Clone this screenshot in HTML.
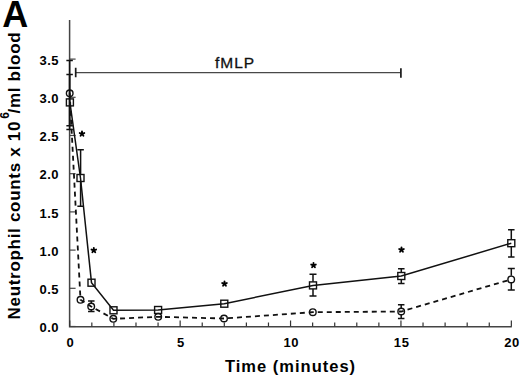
<!DOCTYPE html><html><head><meta charset="utf-8"><style>html,body{margin:0;padding:0;background:#fff;}svg{display:block;}text{font-family:"Liberation Sans",sans-serif;}</style></head><body>
<svg width="520" height="376" viewBox="0 0 520 376">
<rect width="520" height="376" fill="#fff"/>
<text x="2.2" y="27" font-size="36" font-weight="bold" fill="#000">A</text>
<text transform="translate(20.1,319.5) rotate(-90)" font-size="17" letter-spacing="0.7" font-weight="bold" fill="#000">Neutrophil counts x 10<tspan font-size="12" dy="-11" dx="2">6</tspan><tspan dy="11" dx="-2">/ml blood</tspan></text>
<path d="M69.6,20 V326.7 H511.8" fill="none" stroke="#444" stroke-width="1.5"/>
<line x1="69.6" x2="75.6" y1="326.50" y2="326.50" stroke="#444" stroke-width="1.2"/>
<text x="58.8" y="332.20" font-size="13" font-weight="bold" letter-spacing="0.4" text-anchor="end" fill="#000">0.0</text>
<line x1="69.6" x2="75.6" y1="288.30" y2="288.30" stroke="#444" stroke-width="1.2"/>
<text x="58.8" y="294.00" font-size="13" font-weight="bold" letter-spacing="0.4" text-anchor="end" fill="#000">0.5</text>
<line x1="69.6" x2="75.6" y1="250.10" y2="250.10" stroke="#444" stroke-width="1.2"/>
<text x="58.8" y="255.80" font-size="13" font-weight="bold" letter-spacing="0.4" text-anchor="end" fill="#000">1.0</text>
<line x1="69.6" x2="75.6" y1="211.90" y2="211.90" stroke="#444" stroke-width="1.2"/>
<text x="58.8" y="217.60" font-size="13" font-weight="bold" letter-spacing="0.4" text-anchor="end" fill="#000">1.5</text>
<line x1="69.6" x2="75.6" y1="173.70" y2="173.70" stroke="#444" stroke-width="1.2"/>
<text x="58.8" y="179.40" font-size="13" font-weight="bold" letter-spacing="0.4" text-anchor="end" fill="#000">2.0</text>
<line x1="69.6" x2="75.6" y1="135.50" y2="135.50" stroke="#444" stroke-width="1.2"/>
<text x="58.8" y="141.20" font-size="13" font-weight="bold" letter-spacing="0.4" text-anchor="end" fill="#000">2.5</text>
<line x1="69.6" x2="75.6" y1="97.30" y2="97.30" stroke="#444" stroke-width="1.2"/>
<text x="58.8" y="103.00" font-size="13" font-weight="bold" letter-spacing="0.4" text-anchor="end" fill="#000">3.0</text>
<line x1="69.6" x2="75.6" y1="59.10" y2="59.10" stroke="#444" stroke-width="1.2"/>
<text x="58.8" y="64.80" font-size="13" font-weight="bold" letter-spacing="0.4" text-anchor="end" fill="#000">3.5</text>
<line x1="69.75" x2="69.75" y1="326.5" y2="320.5" stroke="#333" stroke-width="1.2"/>
<line x1="91.83" x2="91.83" y1="326.5" y2="322.5" stroke="#333" stroke-width="1.2"/>
<line x1="113.91" x2="113.91" y1="326.5" y2="322.5" stroke="#333" stroke-width="1.2"/>
<line x1="135.99" x2="135.99" y1="326.5" y2="322.5" stroke="#333" stroke-width="1.2"/>
<line x1="158.07" x2="158.07" y1="326.5" y2="322.5" stroke="#333" stroke-width="1.2"/>
<line x1="180.15" x2="180.15" y1="326.5" y2="320.5" stroke="#333" stroke-width="1.2"/>
<line x1="202.23" x2="202.23" y1="326.5" y2="322.5" stroke="#333" stroke-width="1.2"/>
<line x1="224.31" x2="224.31" y1="326.5" y2="322.5" stroke="#333" stroke-width="1.2"/>
<line x1="246.39" x2="246.39" y1="326.5" y2="322.5" stroke="#333" stroke-width="1.2"/>
<line x1="268.47" x2="268.47" y1="326.5" y2="322.5" stroke="#333" stroke-width="1.2"/>
<line x1="290.55" x2="290.55" y1="326.5" y2="320.5" stroke="#333" stroke-width="1.2"/>
<line x1="312.63" x2="312.63" y1="326.5" y2="322.5" stroke="#333" stroke-width="1.2"/>
<line x1="334.71" x2="334.71" y1="326.5" y2="322.5" stroke="#333" stroke-width="1.2"/>
<line x1="356.79" x2="356.79" y1="326.5" y2="322.5" stroke="#333" stroke-width="1.2"/>
<line x1="378.87" x2="378.87" y1="326.5" y2="322.5" stroke="#333" stroke-width="1.2"/>
<line x1="400.95" x2="400.95" y1="326.5" y2="320.5" stroke="#333" stroke-width="1.2"/>
<line x1="423.03" x2="423.03" y1="326.5" y2="322.5" stroke="#333" stroke-width="1.2"/>
<line x1="445.11" x2="445.11" y1="326.5" y2="322.5" stroke="#333" stroke-width="1.2"/>
<line x1="467.19" x2="467.19" y1="326.5" y2="322.5" stroke="#333" stroke-width="1.2"/>
<line x1="489.27" x2="489.27" y1="326.5" y2="322.5" stroke="#333" stroke-width="1.2"/>
<line x1="511.35" x2="511.35" y1="326.5" y2="320.5" stroke="#333" stroke-width="1.2"/>
<text x="70.45" y="346.5" font-size="13" font-weight="bold" letter-spacing="0.6" text-anchor="middle" fill="#000">0</text>
<text x="180.85" y="346.5" font-size="13" font-weight="bold" letter-spacing="0.6" text-anchor="middle" fill="#000">5</text>
<text x="291.25" y="346.5" font-size="13" font-weight="bold" letter-spacing="0.6" text-anchor="middle" fill="#000">10</text>
<text x="401.65" y="346.5" font-size="13" font-weight="bold" letter-spacing="0.6" text-anchor="middle" fill="#000">15</text>
<text x="512.05" y="346.5" font-size="13" font-weight="bold" letter-spacing="0.6" text-anchor="middle" fill="#000">20</text>
<text x="225" y="371.5" font-size="16.5" font-weight="bold" letter-spacing="1" fill="#000">Time (minutes)</text>
<path d="M75.6,72.6 H400.8" fill="none" stroke="#484848" stroke-width="1.4"/>
<path d="M75.7,67.8 V77.2 M400.9,68.2 V77.8" fill="none" stroke="#1a1a1a" stroke-width="1.7"/>
<text x="215" y="68" font-size="15.5" letter-spacing="1" fill="#111" stroke="#111" stroke-width="0.3">fMLP</text>
<path d="M69.6,60.4 V129.6 M66.35,60.4 H72.85 M66.35,129.6 H72.85" fill="none" stroke="#111" stroke-width="1.5"/>
<path d="M69.6,74.5 V125.7 M66.35,74.5 H72.85 M66.35,125.7 H72.85" fill="none" stroke="#111" stroke-width="1.5"/>
<path d="M80.6,149.8 V174.40 M80.6,181.60 V206.3 M77.35,149.8 H83.85 M77.35,206.3 H83.85" fill="none" stroke="#111" stroke-width="1.5"/>
<path d="M91.3,301 V302.90 M91.3,310.10 V311.5 M88.05,301 H94.55 M88.05,311.5 H94.55" fill="none" stroke="#111" stroke-width="1.5"/>
<path d="M313,274.3 V281.80 M313,289.00 V296 M309.50,274.3 H316.50 M309.50,296 H316.50" fill="none" stroke="#111" stroke-width="1.5"/>
<path d="M401.3,268.7 V272.40 M401.3,279.60 V283.5 M398.05,268.7 H404.55 M398.05,283.5 H404.55" fill="none" stroke="#111" stroke-width="1.5"/>
<path d="M401.2,304.7 V307.90 M401.2,315.10 V318.5 M397.95,304.7 H404.45 M397.95,318.5 H404.45" fill="none" stroke="#111" stroke-width="1.5"/>
<path d="M511.3,229.7 V239.60 M511.3,246.80 V257 M508.05,229.7 H514.55 M508.05,257 H514.55" fill="none" stroke="#111" stroke-width="1.5"/>
<path d="M511.3,268.5 V275.80 M511.3,283.00 V290 M507.80,268.5 H514.80 M507.80,290 H514.80" fill="none" stroke="#111" stroke-width="1.5"/>
<polyline points="69.9,102.4 80.5,178 91.5,282.7 113.5,310.3 158.1,310 224.3,303.7 313,285.4 401.3,276 511.3,243.2" fill="none" stroke="#111" stroke-width="1.5"/>
<polyline points="69.7,93.3 80.5,299.8 91.2,306.5 113.3,318.8 158.2,316.8 224,318.5 312.8,312.2 401.2,311.5 511.2,279.4" fill="none" stroke="#111" stroke-width="1.8" stroke-dasharray="5 4" stroke-dashoffset="0.53"/>
<rect x="66.40" y="98.90" width="7" height="7" fill="#fff" fill-opacity="0" stroke="#111" stroke-width="1.4"/>
<rect x="77.00" y="174.50" width="7" height="7" fill="#fff" fill-opacity="0" stroke="#111" stroke-width="1.4"/>
<rect x="88.00" y="279.20" width="7" height="7" fill="#fff" fill-opacity="0" stroke="#111" stroke-width="1.4"/>
<rect x="110.00" y="306.80" width="7" height="7" fill="#fff" fill-opacity="0" stroke="#111" stroke-width="1.4"/>
<rect x="154.60" y="306.50" width="7" height="7" fill="#fff" fill-opacity="0" stroke="#111" stroke-width="1.4"/>
<rect x="220.80" y="300.20" width="7" height="7" fill="#fff" fill-opacity="0" stroke="#111" stroke-width="1.4"/>
<rect x="309.50" y="281.90" width="7" height="7" fill="#fff" fill-opacity="0" stroke="#111" stroke-width="1.4"/>
<rect x="397.80" y="272.50" width="7" height="7" fill="#fff" fill-opacity="0" stroke="#111" stroke-width="1.4"/>
<rect x="507.80" y="239.70" width="7" height="7" fill="#fff" fill-opacity="0" stroke="#111" stroke-width="1.4"/>
<circle cx="69.7" cy="93.3" r="3.3" fill="#fff" fill-opacity="0" stroke="#111" stroke-width="1.4"/>
<circle cx="80.5" cy="299.8" r="3.3" fill="#fff" fill-opacity="0" stroke="#111" stroke-width="1.4"/>
<circle cx="91.2" cy="306.5" r="3.3" fill="#fff" fill-opacity="0" stroke="#111" stroke-width="1.4"/>
<circle cx="113.3" cy="318.8" r="3.3" fill="#fff" fill-opacity="0" stroke="#111" stroke-width="1.4"/>
<circle cx="158.2" cy="316.8" r="3.3" fill="#fff" fill-opacity="0" stroke="#111" stroke-width="1.4"/>
<circle cx="224" cy="318.5" r="3.3" fill="#fff" fill-opacity="0" stroke="#111" stroke-width="1.4"/>
<circle cx="312.8" cy="312.2" r="3.3" fill="#fff" fill-opacity="0" stroke="#111" stroke-width="1.4"/>
<circle cx="401.2" cy="311.5" r="3.3" fill="#fff" fill-opacity="0" stroke="#111" stroke-width="1.4"/>
<circle cx="511.2" cy="279.4" r="3.3" fill="#fff" fill-opacity="0" stroke="#111" stroke-width="1.4"/>
<path d="M82.00,133.80 L82.00,131.40 M82.00,133.80 L84.28,133.06 M82.00,133.80 L83.41,135.74 M82.00,133.80 L80.59,135.74 M82.00,133.80 L79.72,133.06 " stroke="#000" stroke-width="1.9" stroke-linecap="round" fill="none"/>
<path d="M93.80,250.30 L93.80,247.90 M93.80,250.30 L96.08,249.56 M93.80,250.30 L95.21,252.24 M93.80,250.30 L92.39,252.24 M93.80,250.30 L91.52,249.56 " stroke="#000" stroke-width="1.9" stroke-linecap="round" fill="none"/>
<path d="M224.50,283.80 L224.50,281.40 M224.50,283.80 L226.78,283.06 M224.50,283.80 L225.91,285.74 M224.50,283.80 L223.09,285.74 M224.50,283.80 L222.22,283.06 " stroke="#000" stroke-width="1.9" stroke-linecap="round" fill="none"/>
<path d="M313.50,265.30 L313.50,262.90 M313.50,265.30 L315.78,264.56 M313.50,265.30 L314.91,267.24 M313.50,265.30 L312.09,267.24 M313.50,265.30 L311.22,264.56 " stroke="#000" stroke-width="1.9" stroke-linecap="round" fill="none"/>
<path d="M401.50,249.80 L401.50,247.40 M401.50,249.80 L403.78,249.06 M401.50,249.80 L402.91,251.74 M401.50,249.80 L400.09,251.74 M401.50,249.80 L399.22,249.06 " stroke="#000" stroke-width="1.9" stroke-linecap="round" fill="none"/>
</svg></body></html>
